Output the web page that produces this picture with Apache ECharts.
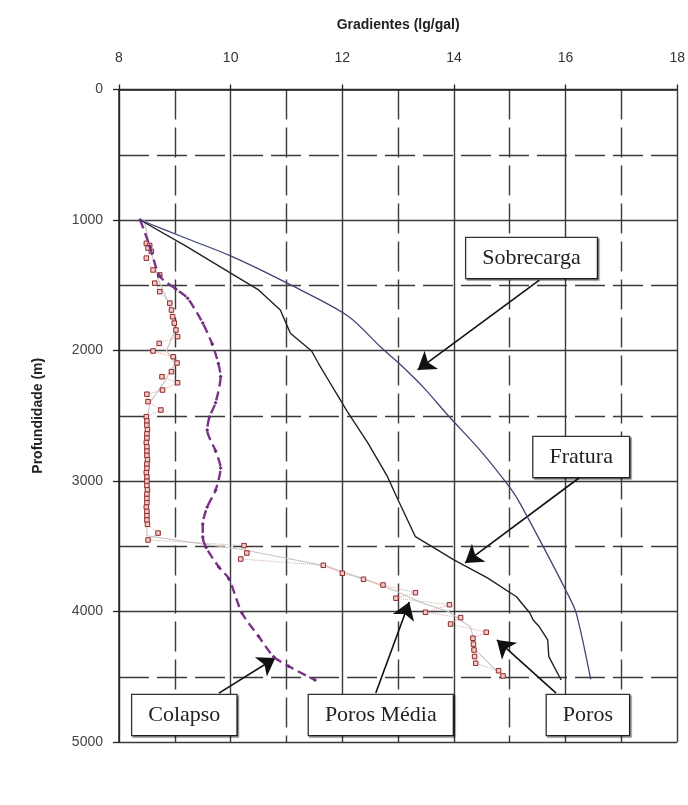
<!DOCTYPE html>
<html><head><meta charset="utf-8">
<script src="https://cdn.jsdelivr.net/npm/echarts@6/dist/echarts.min.js"></script>
<style>html,body{margin:0;padding:0;background:#fff}#c{width:688px;height:805px}</style>
</head><body><div id="c"></div>
<script>
// Tick labels
const xTicks = [8, 10, 12, 14, 16, 18];
const depthTicks = [0, 1000, 2000, 3000, 4000, 5000];
const xTitle = 'Gradientes (lg/gal)';
const yTitle = 'Profundidade (m)';

// Series: [gradient (lb/gal), depth (m)]
const sobrecarga = [[8.38,1000],[9.2,1140],[10.0,1275],[11.04,1490],[12.1,1735],[12.69,1975],[13.02,2100],[13.47,2290],[13.9,2500],[14.47,2765],[14.94,3015],[15.15,3146],[15.6,3503],[16.0,3834],[16.19,4012],[16.45,4520]];
const fratura = [[8.38,1000],[9.2,1200],[10.03,1414],[10.5,1536],[10.89,1690],[11.07,1868],[11.45,2004],[11.57,2096],[11.75,2226],[11.93,2354],[12.1,2475],[12.46,2709],[12.81,2967],[13.0,3146],[13.31,3427],[14.0,3605],[14.6,3743],[15.12,3887],[15.36,4012],[15.42,4065],[15.53,4117],[15.68,4218],[15.7,4346],[15.92,4525]];
const colapso = [[8.38,1000],[8.55,1200],[8.73,1430],[9.02,1530],[9.23,1600],[9.5,1790],[9.67,1950],[9.78,2100],[9.82,2200],[9.73,2400],[9.62,2510],[9.58,2610],[9.73,2770],[9.82,2900],[9.73,3070],[9.58,3200],[9.5,3330],[9.5,3430],[9.56,3510],[9.79,3660],[9.97,3750],[10.2,4010],[10.5,4190],[10.77,4346],[11.04,4420],[11.51,4525]];
const poros = [[8.49,1179],[8.55,1195],[8.52,1215],[8.58,1240],[8.49,1292],[8.61,1383],[8.73,1421],[8.64,1484],[8.73,1549],[8.91,1637],[8.94,1690],[8.96,1741],[8.99,1790],[9.02,1843],[9.05,1894],[8.72,1945],[8.61,2004],[8.97,2048],[9.04,2096],[8.94,2162],[8.77,2201],[9.05,2247],[8.78,2303],[8.5,2335],[8.52,2392],[8.75,2456],[8.49,2507],[8.5,2540],[8.5,2573],[8.51,2606],[8.5,2639],[8.5,2672],[8.49,2705],[8.5,2738],[8.5,2771],[8.5,2804],[8.51,2837],[8.5,2870],[8.5,2903],[8.49,2936],[8.5,2969],[8.5,3002],[8.5,3035],[8.51,3068],[8.5,3101],[8.5,3134],[8.5,3167],[8.49,3200],[8.5,3233],[8.5,3266],[8.5,3299],[8.51,3332],[8.70,3399],[8.52,3452],[10.24,3495],[10.29,3552],[10.18,3598],[11.66,3646],[12.0,3707],[12.38,3753],[12.73,3797],[13.31,3856],[12.96,3898],[13.92,3948],[13.49,4006],[14.12,4047],[13.94,4096],[14.58,4159],[14.34,4205],[14.35,4250],[14.36,4295],[14.37,4345],[14.39,4397],[14.80,4454],[14.88,4494]];
const porosMedia = [[8.45,1000],[8.55,1200],[8.7,1450],[8.9,1650],[9.0,1850],[8.85,2000],[9.0,2100],[8.8,2250],[8.55,2400],[8.5,2550],[8.5,3000],[8.5,3420],[10.2,3525],[11.7,3650],[12.4,3752],[13.0,3850],[13.4,3930],[13.9,4000],[14.3,4120],[14.4,4300],[14.8,4470]];

// Annotations: label, box centre, arrow start, arrow tip (data coords)
const annLabels = ['Sobrecarga','Fratura','Colapso','Poros Média','Poros'];
const annBox = [[15.39,1291],[16.28,2816],[9.17,4793],[12.69,4793],[16.4,4793]];
const annFrom = [[15.53,1460],[16.24,2977],[9.79,4625],[12.6,4625],[15.83,4625]];
const annTo = [[13.35,2149],[14.2,3628],[10.8,4356],[13.2,3927],[14.77,4218]];

const chart = echarts.init(document.getElementById('c'), null, {renderer:'canvas'});
const gridColor = '#3a3a3a';
const option = {
  animation: false,
  backgroundColor: '#fff',
  grid: {left: 119, right: 6, top: 89.5, bottom: 63},
  xAxis: {
    type: 'value', position: 'top',
    min: xTicks[0], max: xTicks[xTicks.length-1], interval: xTicks[1]-xTicks[0],
    name: xTitle, nameLocation: 'middle', nameGap: 57,
    nameTextStyle: {fontFamily: 'Liberation Sans, Arial', fontWeight: 'bold', fontSize: 14, color: '#222'},
    axisLine: {show: true, lineStyle: {color: '#222', width: 1.5}},
    axisTick: {show: true, length: 5, lineStyle: {color: '#222', width: 1.3}},
    axisLabel: {margin: 24, fontFamily: 'Liberation Sans, Arial', fontSize: 14, color: '#333', formatter: v => String(v)},
    splitLine: {show: true, lineStyle: {color: gridColor, width: 1.4}},
    minorTick: {show: false, splitNumber: 2},
    minorSplitLine: {show: true, lineStyle: {color: gridColor, width: 1.4, type: [30, 8]}}
  },
  yAxis: {
    type: 'value', inverse: true,
    min: depthTicks[0], max: depthTicks[depthTicks.length-1], interval: depthTicks[1]-depthTicks[0],
    name: yTitle, nameLocation: 'middle', nameGap: 74, nameRotate: 90,
    nameTextStyle: {fontFamily: 'Liberation Sans, Arial', fontWeight: 'bold', fontSize: 14, color: '#222'},
    axisLine: {show: true, lineStyle: {color: '#222', width: 1.5}},
    axisTick: {show: true, length: 6, lineStyle: {color: '#222', width: 1.3}},
    axisLabel: {margin: 16, fontFamily: 'Liberation Sans, Arial', fontSize: 14, color: '#444', formatter: v => String(v)},
    splitLine: {show: true, lineStyle: {color: gridColor, width: 1.4}},
    minorTick: {show: false, splitNumber: 2},
    minorSplitLine: {show: true, lineStyle: {color: gridColor, width: 1.4, type: [30, 8]}}
  },
  series: [
    {name: 'Poros Média', type: 'line', data: porosMedia, showSymbol: false, z: 3,
      lineStyle: {color: '#c8c8c8', width: 1.2}},
    {name: 'Poros', type: 'line', data: poros, z: 4, symbol: 'rect', symbolSize: 4.5, showAllSymbol: true,
      itemStyle: {color: '#f3c9c9', borderColor: '#8e2a2a', borderWidth: 1},
      lineStyle: {color: '#e8a0a0', width: 1, type: 'dotted'}},
    {name: 'Colapso', type: 'line', data: colapso, z: 5, symbol: 'diamond', symbolSize: 4, showAllSymbol: true, smooth: 0.25,
      itemStyle: {color: '#6a2a78'},
      lineStyle: {color: '#7a3488', width: 2.4, type: [9, 5]}},
    {name: 'Fratura', type: 'line', data: fratura, showSymbol: false, z: 6,
      lineStyle: {color: '#222', width: 1.4}},
    {name: 'Sobrecarga', type: 'line', data: sobrecarga, showSymbol: false, z: 6, smooth: 0.3,
      lineStyle: {color: '#3d4576', width: 1.3}},
    {name: 'ann', type: 'scatter', data: [], z: 10,
      markLine: {
        silent: true, animation: false, symbol: ['none', 'arrow'], symbolSize: 17,
        label: {show: false},
        lineStyle: {color: '#111', width: 1.6, type: 'solid'},
        data: annFrom.map((f, i) => [{coord: f}, {coord: annTo[i]}])
      },
      markPoint: {
        silent: true, animation: false, symbol: 'circle', symbolSize: 1,
        itemStyle: {color: 'rgba(0,0,0,0)'},
        label: {show: true, position: 'inside', fontFamily: 'Liberation Serif, Times New Roman', fontSize: 22, color: '#222',
          backgroundColor: '#fff', borderColor: '#333', borderWidth: 1.3, padding: [9, 16],
          shadowColor: 'rgba(0,0,0,0.45)', shadowOffsetX: 1.5, shadowOffsetY: 1.5, shadowBlur: 1},
        data: annBox.map((c, i) => ({coord: c, value: annLabels[i], label: {formatter: annLabels[i]}}))
      }
    }
  ]
};
chart.setOption(option);
</script>
</body></html>
